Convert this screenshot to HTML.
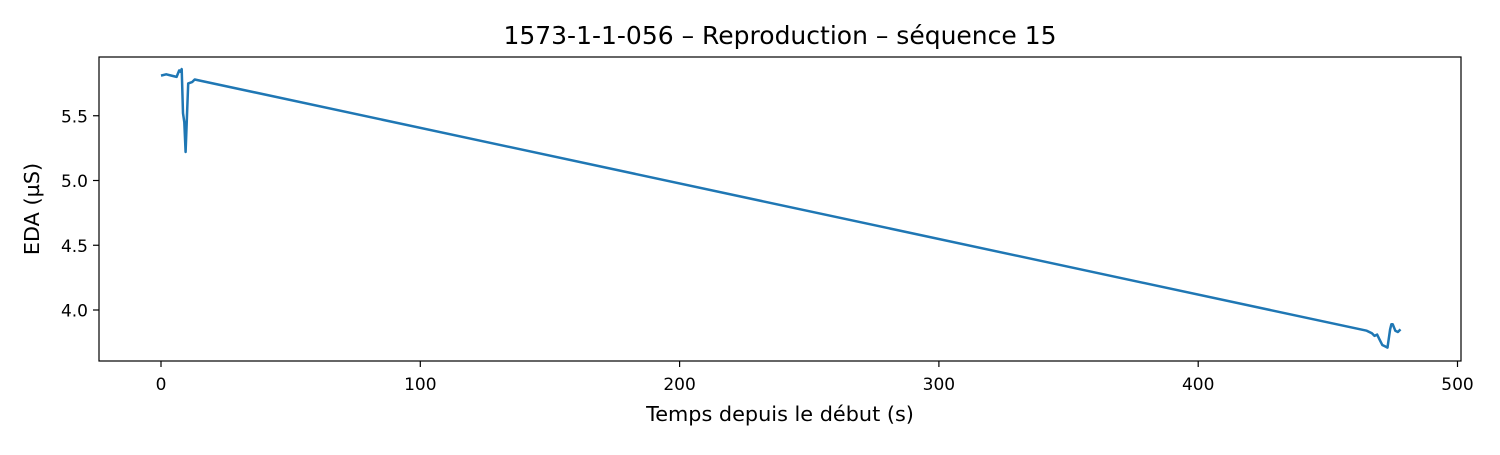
<!DOCTYPE html>
<html><head><meta charset="utf-8"><style>
body{margin:0;background:#fff;}
svg text{font-family:"DejaVu Sans","Liberation Sans",sans-serif;fill:#000;}
</style></head><body>
<svg id="chart" width="1500" height="450" xmlns="http://www.w3.org/2000/svg">
<rect width="1500" height="450" fill="#fff"/>
<text x="780" y="44" font-size="25" text-anchor="middle">1573-1-1-056 – Reproduction – séquence 15</text>
<g id="xt"></g><g id="yt"></g>
<path id="line" fill="none" stroke="#1f77b4" stroke-width="2.5" stroke-linejoin="round"/>
<rect x="99" y="57" width="1362" height="304" fill="none" stroke="#000" stroke-width="1.2"/>
<text x="780" y="421" font-size="20.8" text-anchor="middle">Temps depuis le début (s)</text>
<text transform="translate(39,209) rotate(-90)" font-size="20.8" text-anchor="middle">EDA (µS)</text>
</svg>
<script>
const times=[0,2,4,6,7,7.5,8,8.5,9,9.5,10.5,12,13,465,467,468,469,470,471,472,473,474,474.5,475,476,477,478];
const eda=[5.81,5.82,5.81,5.80,5.85,5.84,5.86,5.52,5.45,5.22,5.75,5.76,5.78,3.84,3.82,3.80,3.81,3.77,3.73,3.72,3.71,3.85,3.89,3.89,3.84,3.83,3.85];
const xTicks=[0,100,200,300,400,500];
const yTicks=[4.0,4.5,5.0,5.5];
const X=t=>161+t*2.593;
const Y=v=>310-(v-4)*129.5;
const ns="http://www.w3.org/2000/svg";
function mk(tag,attrs,parent){const e=document.createElementNS(ns,tag);for(const k in attrs)e.setAttribute(k,attrs[k]);parent.appendChild(e);return e;}
const xt=document.getElementById('xt'),yt=document.getElementById('yt');
xTicks.forEach(t=>{
 const l=mk('line',{x1:X(t),x2:X(t),y1:361,y2:367,stroke:'#000','stroke-width':1.2},xt);
 
 
 const s=mk('text',{x:X(t),y:390,'font-size':17,'text-anchor':'middle'},xt);s.textContent=t;
 
 
});
yTicks.forEach(v=>{
 const l=mk('line',{x1:93,x2:99,y1:Y(v),y2:Y(v),stroke:'#000','stroke-width':1.2},yt);
 
 
 const s=mk('text',{x:88,y:Y(v)+6.5,'font-size':17,'text-anchor':'end'},yt);s.textContent=v.toFixed(1);
 
 
});
document.getElementById('line').setAttribute('d',times.map((t,i)=>(i?'L':'M')+X(t).toFixed(1)+','+Y(eda[i]).toFixed(1)).join(''));
</script>
</body></html>
